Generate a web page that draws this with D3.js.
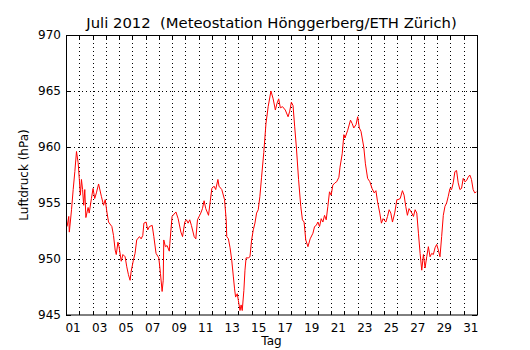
<!DOCTYPE html>
<html>
<head>
<meta charset="utf-8">
<script src="https://cdn.jsdelivr.net/npm/d3@7"></script>
<style>
  body { margin: 0; background: #fff; }
  text { font-family: "DejaVu Sans", sans-serif; }
</style>
</head>
<body>
<svg width="530" height="350"></svg>
<script>
// Stunden seit 1. Juli 00:00 und Luftdruck (hPa)
var hours = [
  2,5,6,10,13,16,19,22,24,26,28,30,32,34,36,40,42,46,49,52,55,59,64,68,71,74,77,83,86,89,
  91,94,96,100,103,107,110,113,116,118,122,125,128,133,136,139,141,145,148,151,156,159,163,168,171,174,176,177,180,183,187,
  188,192,199,203,208,211,215,218,221,224,227,232,235,238,241,244,247,250,253,258,261,264,268,271,275,277,282,287,290,291,
  294,297,300,303,305,307,310,312,315,317,319,322,324,326,330,333,336,339,342,345,348,351,354,
  358,362,366,371,375,379,382,385,388,392,397,402,405,408,411,414,417,421,425,428,431,434,438,442,447,450,453,456,459,462,
  465,468,471,474,477,480,483,487,490,494,496,500,503,505,510,515,518,521,525,528,531,534,539,
  542,546,550,554,558,561,564,568,571,574,579,582,585,588,591,595,599,601,605,609,612,615,618,621,626,629,632,635,638,641,
  644,647,650,653,656,659,662,665,668,671,674,677,680,683,686,689,692,695,698,701,704,707,710,713,716,719,722,725,728,731,
  734,737,740,743
];
var pressure = [
  952.9,953.8,952.4,954.4,956.2,957.8,959.6,958.6,957.2,955.7,957.1,956.2,954.8,956.2,953.7,954.6,954.1,955.4,956.3,955.4,
  955.9,956.7,955.6,954.8,955.3,954.2,953.3,952.9,952.1,950.8,950.4,951.5,951.1,949.8,950.4,950.2,949.3,948.6,948.1,948.9,
  949.9,950.5,951.7,952.0,951.8,952.1,953.2,953.3,952.6,952.9,953.0,952.0,950.5,950.1,948.7,947.1,948.1,951.7,951.1,951.2,950.7,
  951.4,953.8,954.2,953.6,952.4,952.0,953.3,953.5,953.2,953.5,953.0,952.0,951.8,953.5,953.8,954.1,954.5,955.2,954.5,953.9,
  955.1,956.3,956.5,956.2,957.1,956.5,956.2,955.3,953.5,952.0,951.8,951.0,949.9,948.4,947.4,946.6,946.9,946.3,945.4,945.9,
  945.4,947.2,949.0,950.1,950.1,950.2,951.7,952.6,953.2,954.1,954.4,955.6,957.3,
  959.5,962.1,963.6,965.0,964.3,963.3,963.9,964.3,963.5,963.6,963.3,962.7,963.2,964.0,963.7,961.8,960.0,957.1,954.7,953.5,
  953.3,951.7,951.1,951.8,952.3,952.9,953.0,953.3,952.9,953.6,953.3,953.9,953.5,954.7,956.0,955.7,956.6,956.8,956.9,957.3,
  958.2,959.4,961.1,960.8,961.5,962.4,962.1,961.7,962.0,962.7,961.7,961.4,960.0,
  958.5,957.2,956.9,956.3,955.9,956.1,955.1,954.1,953.2,953.6,953.3,953.8,954.4,954.1,953.3,954.1,955.3,955.3,955.4,956.1,
  955.7,954.7,953.9,954.5,954.1,953.8,954.4,954.1,952.3,950.5,949.0,950.4,949.2,950.2,951.1,950.2,950.5,950.4,951.0,951.3,
  950.8,950.2,952.0,953.9,954.7,955.0,955.6,956.3,956.2,956.8,957.8,957.9,956.8,956.2,956.3,957.2,956.9,957.0,957.3,957.5,
  957.1,956.2,955.9,956.0
];
var dayLabels = ["01","03","05","07","09","11","13","15","17","19","21","23","25","27","29","31"];
var yTicks = [945, 950, 955, 960, 965, 970];

var svg = d3.select("svg"),
    margin = {top: 35, right: 53, bottom: 35, left: 66},
    width = +svg.attr("width") - margin.left - margin.right,
    height = +svg.attr("height") - margin.top - margin.bottom;

var x = d3.scaleLinear().domain([0, 31 * 24]).range([0, width]),
    y = d3.scaleLinear().domain([945, 970]).range([height, 0]);

var g = svg.append("g")
    .attr("transform", "translate(" + margin.left + "," + margin.top + ")");

// Tagesgrenzen fuer Gitter und Ticks
var dayStarts = d3.range(1, 31).map(function(d) { return d * 24; });

// Gitter (gepunktet)
g.selectAll(".vgrid")
  .data(dayStarts)
  .enter().append("line")
    .attr("x1", function(d) { return Math.round(x(d)) + 0.5; })
    .attr("x2", function(d) { return Math.round(x(d)) + 0.5; })
    .attr("y1", 0).attr("y2", height)
    .attr("stroke", "#000").attr("stroke-width", 1)
    .attr("stroke-dasharray", "1,3");

g.selectAll(".hgrid")
  .data(yTicks.slice(1, -1))
  .enter().append("line")
    .attr("x1", 0).attr("x2", width)
    .attr("y1", function(d) { return Math.round(y(d)) + 0.5; })
    .attr("y2", function(d) { return Math.round(y(d)) + 0.5; })
    .attr("stroke", "#000").attr("stroke-width", 1)
    .attr("stroke-dasharray", "1,3");

// Ticks innen, auf allen vier Seiten
g.selectAll(".tb")
  .data(dayStarts)
  .enter().append("line")
    .attr("x1", function(d) { return Math.round(x(d)) + 0.5; })
    .attr("x2", function(d) { return Math.round(x(d)) + 0.5; })
    .attr("y1", height).attr("y2", height - 4)
    .attr("stroke", "#000");
g.selectAll(".tt")
  .data(dayStarts)
  .enter().append("line")
    .attr("x1", function(d) { return Math.round(x(d)) + 0.5; })
    .attr("x2", function(d) { return Math.round(x(d)) + 0.5; })
    .attr("y1", 0).attr("y2", 4)
    .attr("stroke", "#000");
g.selectAll(".tl")
  .data(yTicks)
  .enter().append("line")
    .attr("x1", 0).attr("x2", 5)
    .attr("y1", function(d) { return Math.round(y(d)) + 0.5; })
    .attr("y2", function(d) { return Math.round(y(d)) + 0.5; })
    .attr("stroke", "#000");
g.selectAll(".tr")
  .data(yTicks)
  .enter().append("line")
    .attr("x1", width - 5).attr("x2", width)
    .attr("y1", function(d) { return Math.round(y(d)) + 0.5; })
    .attr("y2", function(d) { return Math.round(y(d)) + 0.5; })
    .attr("stroke", "#000");

// Messkurve
var line = d3.line()
    .x(function(d, i) { return x(hours[i]); })
    .y(function(d) { return y(d); });

g.append("path")
    .datum(pressure)
    .attr("fill", "none")
    .attr("stroke", "#ff0000")
    .attr("stroke-width", 1)
    .attr("stroke-linejoin", "round")
    .attr("d", line);

// Rahmen
g.append("rect")
    .attr("x", 0.5).attr("y", 0.5)
    .attr("width", width).attr("height", height - 0.5)
    .attr("fill", "none").attr("stroke", "#000").attr("stroke-width", 1);

// Achsenbeschriftung: Tageslabels in der Tagesmitte
var xAxis = g.append("g")
    .attr("transform", "translate(0," + height + ")")
    .call(d3.axisBottom(x)
      .tickValues(dayLabels.map(function(d) { return (+d - 1) * 24 + 12; }))
      .tickFormat(function(d, i) { return dayLabels[i]; })
      .tickSize(0).tickPadding(8));
xAxis.select(".domain").remove();

var yAxis = g.append("g")
    .call(d3.axisLeft(y).tickValues(yTicks).tickFormat(d3.format("d"))
      .tickSize(0).tickPadding(5));
yAxis.select(".domain").remove();

svg.selectAll(".tick text")
    .attr("font-family", "DejaVu Sans, sans-serif")
    .attr("font-size", 12)
    .attr("fill", "#000");

// Titel und Achsentitel
svg.append("text")
    .attr("x", margin.left + width / 2).attr("y", 28)
    .attr("text-anchor", "middle")
    .attr("font-size", 14.8)
    .text("Juli 2012  (Meteostation Hönggerberg/ETH Zürich)")
    .style("white-space", "pre");

svg.append("text")
    .attr("x", margin.left + width / 2).attr("y", 345)
    .attr("text-anchor", "middle")
    .attr("font-size", 12)
    .text("Tag");

svg.append("text")
    .attr("transform", "translate(28," + (margin.top + height / 2) + ") rotate(-90)")
    .attr("text-anchor", "middle")
    .attr("font-size", 12)
    .text("Luftdruck (hPa)");
</script>
</body>
</html>
